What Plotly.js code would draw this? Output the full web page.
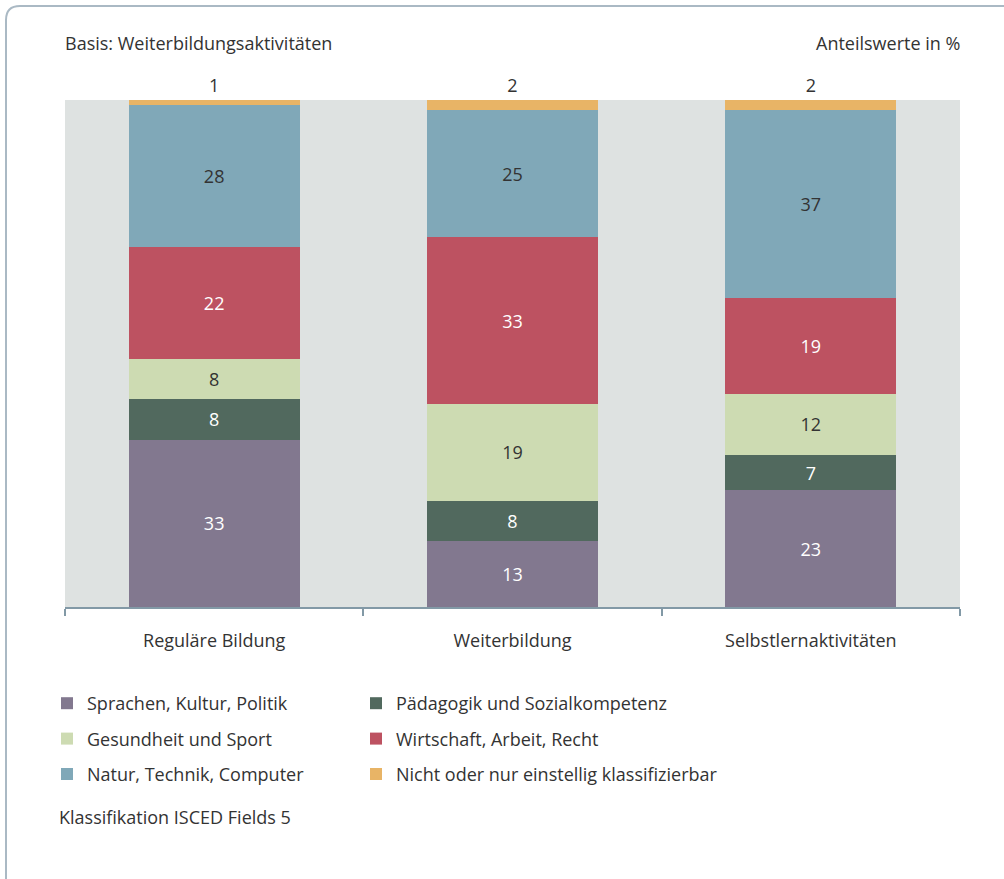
<!DOCTYPE html>
<html>
<head>
<meta charset="utf-8">
<script src="https://cdn.plot.ly/plotly-3.0.1.min.js"></script>
<style>html,body{margin:0;padding:0;background:#fff;}</style>
</head>
<body>
<div id="chart" style="width:1004px;height:879px;"></div>
<script>
var categories = ["Reguläre Bildung", "Weiterbildung", "Selbstlernaktivitäten"];
var seriesNames = ["Sprachen, Kultur, Politik", "Pädagogik und Sozialkompetenz", "Gesundheit und Sport", "Wirtschaft, Arbeit, Recht", "Natur, Technik, Computer", "Nicht oder nur einstellig klassifizierbar"];
var sprachen = [33, 13, 23];
var paedagogik = [8, 8, 7];
var gesundheit = [8, 19, 12];
var wirtschaft = [22, 33, 19];
var natur = [28, 25, 37];
var nicht = [1, 2, 2];

var seriesValues = [sprachen, paedagogik, gesundheit, wirtschaft, natur, nicht];
var colors = ["#82788f", "#51695e", "#cddbb2", "#bd5261", "#80a8b8", "#e8b466"];
var textColors = ["#ffffff", "#ffffff", "#333333", "#ffffff", "#333333", "#333333"];
var legendIds = ["legend", "legend2", "legend", "legend2", "legend", "legend2"];
var FONT = "Open Sans, sans-serif";
var FS = 18;

var traces = seriesValues.map(function (vals, i) {
  var isTop = (i === seriesValues.length - 1);
  return {
    type: "bar",
    name: seriesNames[i],
    x: categories,
    y: vals,
    marker: {color: colors[i], line: {width: 0}},
    text: vals.map(String),
    texttemplate: "%{text}",
    textposition: isTop ? "outside" : "inside",
    insidetextanchor: "middle",
    constraintext: "none",
    textangle: 0,
    cliponaxis: false,
    insidetextfont: {family: FONT, size: FS, color: textColors[i]},
    outsidetextfont: {family: FONT, size: FS, color: "#333333"},
    hoverinfo: "skip",
    legend: legendIds[i],
    legendgroup: "g" + i
  };
});

// frame conversions (plot area: x 65..960, y 100..607)
function px(x) { return (x - 65) / 895; }
function py(y) { return (607 - y) / 507; }
var framePath = "M" + px(6) + "," + py(879) +
  " L" + px(6) + "," + py(20) +
  " Q" + px(6) + "," + py(6) + " " + px(20) + "," + py(6) +
  " L" + px(1004) + "," + py(6);

var layout = {
  width: 1004,
  height: 879,
  margin: {l: 65, r: 44, t: 100, b: 272, pad: 0},
  paper_bgcolor: "#ffffff",
  plot_bgcolor: "#dee2e1",
  barmode: "stack",
  bargap: 0.427,
  font: {family: FONT, size: FS, color: "#333333"},
  showlegend: true,
  xaxis: {
    type: "category",
    showline: true,
    linecolor: "#8299a6",
    linewidth: 2,
    ticks: "outside",
    tickson: "boundaries",
    ticklen: 7,
    tickwidth: 2,
    tickcolor: "#8299a6",
    ticklabelstandoff: 16,
    tickfont: {family: FONT, size: FS, color: "#333333"},
    showgrid: false,
    zeroline: false,
    fixedrange: true
  },
  yaxis: {
    range: [0, 100],
    showticklabels: false,
    showgrid: false,
    zeroline: false,
    showline: false,
    ticks: "",
    fixedrange: true
  },
  legend: {
    x: px(47), y: py(685), xanchor: "left", yanchor: "top",
    orientation: "v", traceorder: "grouped", tracegroupgap: 9,
    bgcolor: "rgba(0,0,0,0)", borderwidth: 0,
    font: {family: FONT, size: FS, color: "#333333"}
  },
  legend2: {
    x: px(356), y: py(685), xanchor: "left", yanchor: "top",
    orientation: "v", traceorder: "grouped", tracegroupgap: 9,
    bgcolor: "rgba(0,0,0,0)", borderwidth: 0,
    font: {family: FONT, size: FS, color: "#333333"}
  },
  annotations: [
    {text: "Basis: Weiterbildungsaktivitäten", xref: "paper", yref: "paper", x: px(63), y: py(43), xanchor: "left", yanchor: "middle", showarrow: false, font: {family: FONT, size: FS, color: "#333333"}},
    {text: "Anteilswerte in %", xref: "paper", yref: "paper", x: px(962), y: py(43), xanchor: "right", yanchor: "middle", showarrow: false, font: {family: FONT, size: FS, color: "#333333"}},
    {text: "Klassifikation ISCED Fields 5", xref: "paper", yref: "paper", x: px(57), y: py(817), xanchor: "left", yanchor: "middle", showarrow: false, font: {family: FONT, size: FS, color: "#333333"}}
  ],
  shapes: [
    {type: "path", xref: "paper", yref: "paper", path: framePath, line: {color: "#aab9c4", width: 2}, layer: "above"}
  ]
};

Plotly.newPlot("chart", traces, layout, {displayModeBar: false, staticPlot: true});
</script>
</body>
</html>
